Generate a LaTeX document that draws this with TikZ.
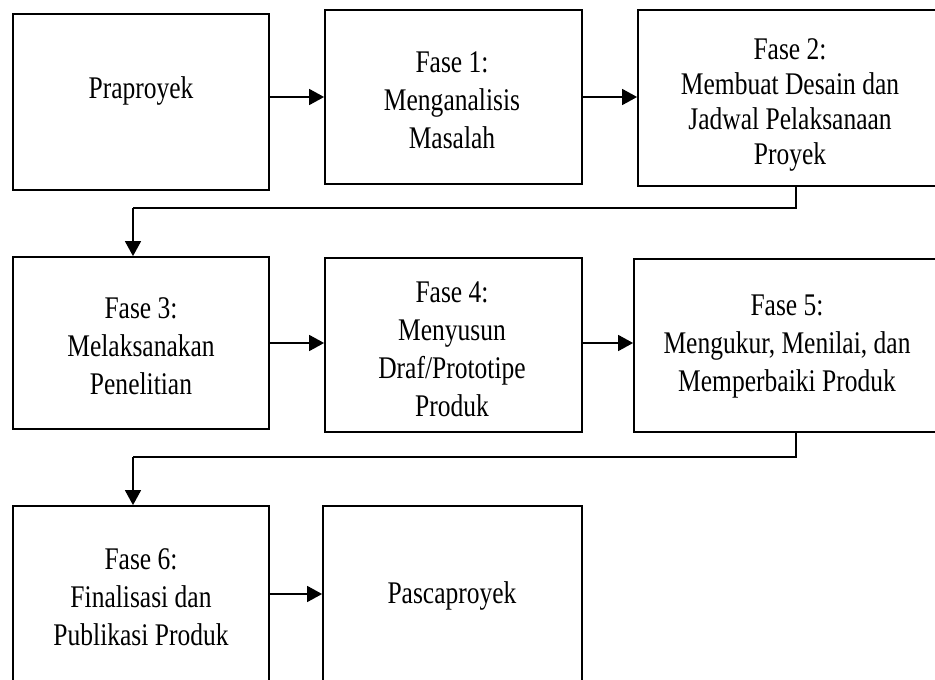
\documentclass[tikz,border=0pt]{standalone}
\usepackage{fontspec}
\setmainfont{Liberation Serif}[FakeStretch=0.81]
\usetikzlibrary{arrows.meta}
\begin{document}
\begin{tikzpicture}[x=1pt,y=-1pt,
  box/.style={draw=black, line width=1.8pt, rectangle, inner sep=0pt},
  txt/.style={font=\fontsize{31.5}{38}\selectfont, align=center, inner sep=0pt},
  arr/.style={line width=1.6pt, -{Triangle[length=15pt,width=16pt]}},
  conn/.style={line width=1.6pt}]
\useasboundingbox (0,0) rectangle (935,680);
% boxes
\node[box, minimum width=256pt, minimum height=176pt] (p0) at (141,102) {};
\node[box, minimum width=257pt, minimum height=174pt] (p1) at (453.5,97) {};
\node[box, minimum width=304pt, minimum height=176pt] (p2) at (790,98) {};
\node[box, minimum width=256pt, minimum height=172pt] (p3) at (141,343) {};
\node[box, minimum width=257pt, minimum height=174pt] (p4) at (453.5,345) {};
\node[box, minimum width=306pt, minimum height=173pt] (p5) at (787,345.5) {};
\node[box, minimum width=256pt, minimum height=176pt] (p6) at (141,594) {};
\node[box, minimum width=259pt, minimum height=176pt] (p7) at (452.5,594) {};
% texts
\node[txt] (t0) at (141,91) {Praproyek};
\node[txt] (t1) at (452,100) {Fase 1:\\Menganalisis\\Masalah};
\node[txt, font=\fontsize{31.5}{35}\selectfont] (t2) at (790,105) {Fase 2:\\Membuat Desain dan\\Jadwal Pelaksanaan\\Proyek};
\node[txt] (t3) at (141,346) {Fase 3:\\Melaksanakan\\Penelitian};
\node[txt] (t4) at (452,349) {Fase 4:\\Menyusun\\Draf/Prototipe\\Produk};
\node[txt] (t5) at (787,347) {Fase 5:\\Mengukur, Menilai, dan\\Memperbaiki Produk};
\node[txt] (t6) at (141,597) {Fase 6:\\Finalisasi dan\\Publikasi Produk};
\node[txt] (t7) at (452,596) {Pascaproyek};
% connector corners
\coordinate (c2a) at (796,208);
\coordinate (c2b) at (133,208);
\coordinate (c5a) at (796,457);
\coordinate (c5b) at (133,457);
% arrows
\draw[arr] (p0.east |- p1.west) -- (p1.west);
\draw[arr] (p1.east) -- (p1.east -| p2.west);
\draw[arr] (p3.east) -- (p3.east -| p4.west);
\draw[arr] (p4.east |- p3.east) -- (p5.west |- p3.east);
\draw[arr] (p6.east) -- (p6.east -| p7.west);
\draw[conn] (p2.south -| c2a) -- (c2a) -- (c2b);
\draw[arr] (c2b) -- (c2b |- p3.north);
\draw[conn] (p5.south -| c5a) -- (c5a) -- (c5b);
\draw[arr] (c5b) -- (c5b |- p6.north);
\end{tikzpicture}
\end{document}
